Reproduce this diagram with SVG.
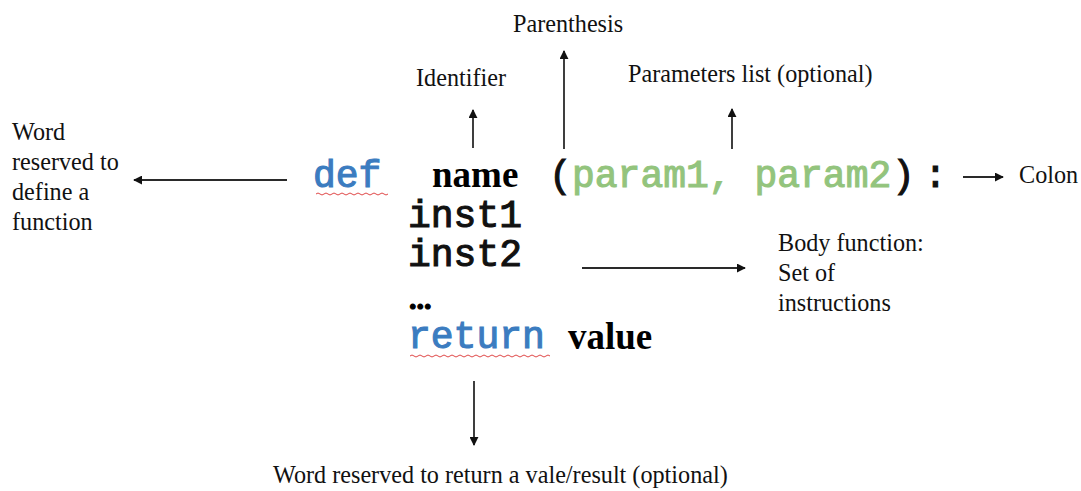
<svg xmlns="http://www.w3.org/2000/svg" width="1081" height="491" viewBox="0 0 1081 491">
<style>
.lbl{font-family:"Liberation Serif","Times New Roman",serif;font-size:24.2px;fill:#111}
.mono{font-family:"Liberation Mono","Courier New",monospace;font-size:38px;font-weight:normal;stroke-width:1.1}
.kw{fill:#3b7cc0;stroke:#3b7cc0}
.prm{fill:#93c47d;stroke:#93c47d}
.blk{fill:#111;stroke:#111}
.bold{font-family:"Liberation Serif","Times New Roman",serif;font-size:37px;font-weight:bold;fill:#000}
.conn line{stroke:#2a2a2a;stroke-width:1.8}
.wavy{fill:none;stroke:#e04848;stroke-width:1}
</style>
<defs>
<marker id="ah" viewBox="0 0 10 10" refX="9" refY="5" markerWidth="5" markerHeight="5" orient="auto" markerUnits="strokeWidth">
<path d="M0,0 L10,5 L0,10 z" fill="#111"/>
</marker>
</defs>
<rect width="1081" height="491" fill="#fff"/>
<g id="code">
<text class="mono kw" x="313" y="187">def</text>
<path class="wavy" d="M316,194 q2,-2 4,0 t4,0 t4,0 t4,0 t4,0 t4,0 t4,0 t4,0 t4,0 t4,0 t4,0 t4,0 t4,0 t4,0 t4,0 t4,0 t4,0 t4,0"/>
<text class="bold" x="432" y="187">name</text>
<text class="mono blk" x="549" y="187">(</text>
<text class="mono prm" x="572" y="187">param1, param2</text>
<text class="mono blk" x="892" y="187">)</text>
<text class="mono blk" x="924" y="187">:</text>
<text class="mono blk" x="408" y="227">inst1</text>
<text class="mono blk" x="408" y="266">inst2</text>
<text class="bold" x="409" y="309" style="font-size:30px;stroke:#000;stroke-width:1.2">...</text>
<text class="mono kw" x="408" y="348">return</text>
<path class="wavy" d="M410,356 q2,-2 4,0 t4,0 t4,0 t4,0 t4,0 t4,0 t4,0 t4,0 t4,0 t4,0 t4,0 t4,0 t4,0 t4,0 t4,0 t4,0 t4,0 t4,0 t4,0 t4,0 t4,0 t4,0 t4,0 t4,0 t4,0 t4,0 t4,0 t4,0 t4,0 t4,0 t4,0 t4,0 t4,0 t4,0 t4,0"/>
<text class="bold" x="568" y="349">value</text>
</g>
<g id="label-def">
<text class="lbl" x="12" y="140">Word</text>
<text class="lbl" x="12" y="170">reserved to</text>
<text class="lbl" x="12" y="200">define a</text>
<text class="lbl" x="12" y="230">function</text>
</g>
<g id="label-parenthesis"><text class="lbl" x="513" y="32">Parenthesis</text></g>
<g id="label-identifier"><text class="lbl" x="416" y="86">Identifier</text></g>
<g id="label-params"><text class="lbl" x="628" y="82">Parameters list (optional)</text></g>
<g id="label-colon"><text class="lbl" x="1019" y="183">Colon</text></g>
<g id="label-body">
<text class="lbl" x="778" y="251">Body function:</text>
<text class="lbl" x="778" y="281">Set of</text>
<text class="lbl" x="778" y="311">instructions</text>
</g>
<g id="label-return"><text class="lbl" x="273" y="483">Word reserved to return a vale/result (optional)</text></g>
<g class="conn" id="connectors">
<line x1="287" y1="180" x2="134" y2="180" marker-end="url(#ah)"/>
<line x1="473" y1="148" x2="473" y2="110" marker-end="url(#ah)"/>
<line x1="564" y1="149" x2="564" y2="51" marker-end="url(#ah)"/>
<line x1="732" y1="149" x2="732" y2="109" marker-end="url(#ah)"/>
<line x1="963" y1="177" x2="1003" y2="177" marker-end="url(#ah)"/>
<line x1="582" y1="268" x2="745" y2="268" marker-end="url(#ah)"/>
<line x1="474" y1="381" x2="474" y2="445" marker-end="url(#ah)"/>
</g>
</svg>
